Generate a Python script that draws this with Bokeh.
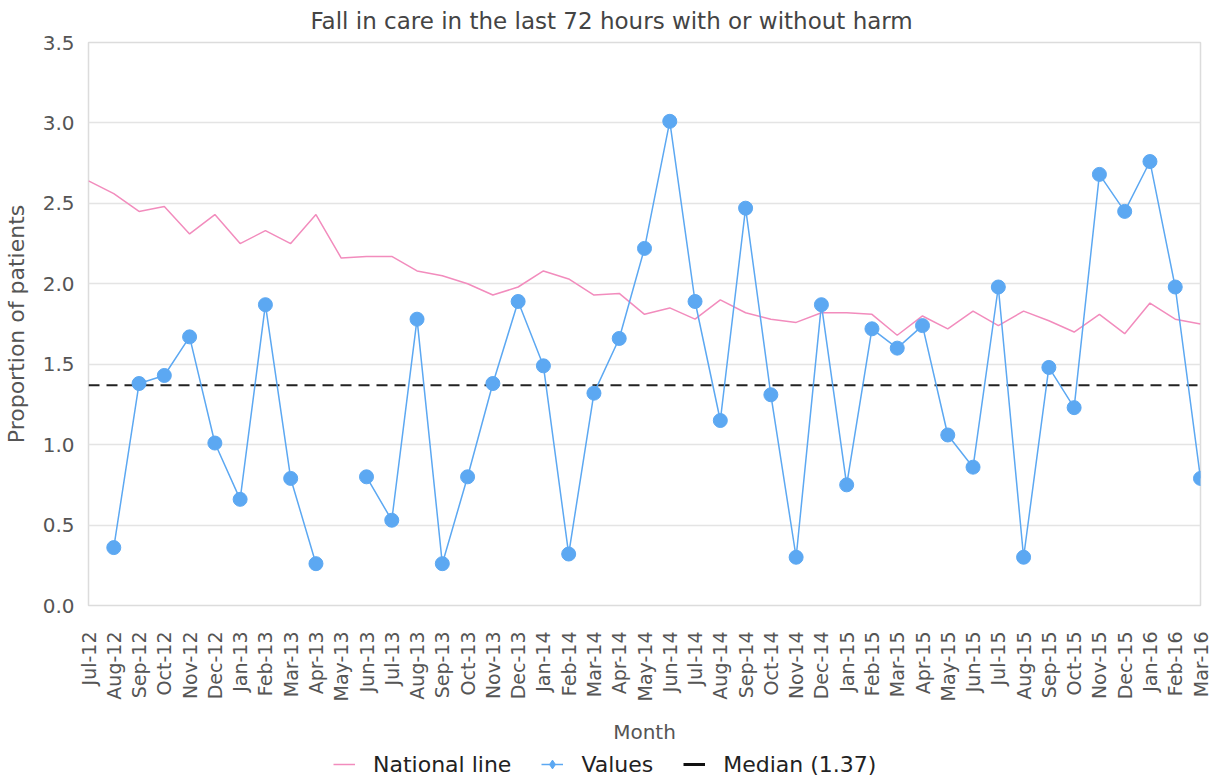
import math
from bokeh.plotting import figure
from bokeh.layouts import column
from bokeh.models import (FixedTicker, Legend, LegendItem, Range1d, PrintfTickFormatter)
from bokeh.embed import file_html
from bokeh.resources import INLINE

nan = float("nan")

months = ["Jul-12", "Aug-12", "Sep-12", "Oct-12", "Nov-12", "Dec-12",
          "Jan-13", "Feb-13", "Mar-13", "Apr-13", "May-13", "Jun-13",
          "Jul-13", "Aug-13", "Sep-13", "Oct-13", "Nov-13", "Dec-13",
          "Jan-14", "Feb-14", "Mar-14", "Apr-14", "May-14", "Jun-14",
          "Jul-14", "Aug-14", "Sep-14", "Oct-14", "Nov-14", "Dec-14",
          "Jan-15", "Feb-15", "Mar-15", "Apr-15", "May-15", "Jun-15",
          "Jul-15", "Aug-15", "Sep-15", "Oct-15", "Nov-15", "Dec-15",
          "Jan-16", "Feb-16", "Mar-16"]

values = [nan, 0.36, 1.38, 1.43, 1.67, 1.01,
          0.66, 1.87, 0.79, 0.26, nan, 0.80,
          0.53, 1.78, 0.26, 0.80, 1.38, 1.89,
          1.49, 0.32, 1.32, 1.66, 2.22, 3.01,
          1.89, 1.15, 2.47, 1.31, 0.30, 1.87,
          0.75, 1.72, 1.60, 1.74, 1.06, 0.86,
          1.98, 0.30, 1.48, 1.23, 2.68, 2.45,
          2.76, 1.98, 0.79]

national = [2.64, 2.56, 2.45, 2.48, 2.31, 2.43,
            2.25, 2.33, 2.25, 2.43, 2.16, 2.17,
            2.17, 2.08, 2.05, 2.00, 1.93, 1.98,
            2.08, 2.03, 1.93, 1.94, 1.81, 1.85,
            1.78, 1.90, 1.82, 1.78, 1.76, 1.82,
            1.82, 1.81, 1.68, 1.80, 1.72, 1.83,
            1.74, 1.83, 1.77, 1.70, 1.81, 1.69,
            1.88, 1.78, 1.75]

median_value = 1.37
y_ticks = [0.0, 0.5, 1.0, 1.5, 2.0, 2.5, 3.0, 3.5]

PINK = "#f28cbd"
BLUE = "#5ca8f2"
FONT = "DejaVu Sans"

x = list(range(len(months)))

p = figure(width=1212, height=750,
           output_backend="svg", toolbar_location=None,
           x_range=Range1d(x[0], x[-1]), y_range=Range1d(y_ticks[0], y_ticks[-1]),
           min_border_left=88, min_border_right=12, min_border_top=42,
           min_border_bottom=145)

p.title.text = "Fall in care in the last 72 hours with or without harm"
p.title.align = "left"
p.title.offset = 222
p.title.vertical_align = "top"
p.title.text_font = FONT
p.title.text_font_size = "23px"
p.title.text_font_style = "normal"
p.title.text_color = "#444444"
p.title.standoff = 14

p.outline_line_color = "#dcdcdc"
p.outline_line_width = 1.5
p.xgrid.visible = False
p.ygrid.grid_line_color = "#e4e4e4"
p.ygrid.grid_line_width = 1.5

yax = p.yaxis[0]
yax.ticker = FixedTicker(ticks=y_ticks)
yax.formatter = PrintfTickFormatter(format="%.1f")
yax.axis_line_color = None
yax.major_tick_line_color = None
yax.major_tick_out = 0
yax.major_tick_in = 0
yax.minor_tick_line_color = None
yax.major_label_standoff = 14
yax.major_label_text_font = FONT
yax.major_label_text_font_size = "20px"
yax.major_label_text_color = "#555555"
yax.axis_label = "Proportion of patients"
yax.axis_label_standoff = 11
yax.axis_label_text_font = FONT
yax.axis_label_text_font_size = "22px"
yax.axis_label_text_font_style = "normal"
yax.axis_label_text_color = "#555555"

xax = p.xaxis[0]
xax.ticker = FixedTicker(ticks=x)
xax.major_label_overrides = {i: m for i, m in zip(x, months)}
xax.major_label_orientation = math.pi / 2
xax.axis_line_color = None
xax.major_tick_line_color = None
xax.minor_tick_line_color = None
xax.major_label_standoff = 20
xax.major_label_text_font = FONT
xax.major_label_text_font_size = "19px"
xax.major_label_text_color = "#555555"
xax.axis_label = "Month"
xax.axis_label_standoff = 16
xax.axis_label_text_font = FONT
xax.axis_label_text_font_size = "20px"
xax.axis_label_text_font_style = "normal"
xax.axis_label_text_color = "#555555"

p.line(x, national, line_color=PINK, line_width=1.5)
p.line([x[0], x[-1]], [median_value, median_value], line_color="#222222",
       line_width=2, line_dash="11 7")
p.line(x, values, line_color=BLUE, line_width=1.5)
p.scatter(x, values, size=14, marker="circle", fill_color=BLUE, line_color=BLUE)

# Legend strip below the chart (its own small figure, legend-only renderers)
lg = figure(width=1212, height=28, output_backend="svg", toolbar_location=None,
            x_range=Range1d(0, 1), y_range=Range1d(0, 1),
            x_axis_type=None, y_axis_type=None,
            min_border_left=0, min_border_right=0, min_border_top=0,
            min_border_bottom=0)
lg.outline_line_color = None
lg.xgrid.visible = False
lg.ygrid.visible = False

d_nat = lg.line([nan], [nan], line_color=PINK, line_width=1.5)
d_val_line = lg.line([nan], [nan], line_color=BLUE, line_width=1.5)
d_val_mark = lg.scatter([nan], [nan], marker="diamond", size=9,
                        fill_color=BLUE, line_color=BLUE)
d_med = lg.line([nan], [nan], line_color="#111111", line_width=3)

legend = Legend(items=[
    LegendItem(label="National line", renderers=[d_nat]),
    LegendItem(label="Values", renderers=[d_val_line, d_val_mark]),
    LegendItem(label=f"Median ({median_value})", renderers=[d_med]),
], orientation="horizontal", location=(245, 1))
legend.border_line_color = None
legend.background_fill_alpha = 0
legend.padding = 0
legend.margin = 0
legend.spacing = 30
legend.glyph_width = 22
legend.glyph_height = 26
legend.label_height = 26
legend.label_standoff = 18
legend.label_text_font = FONT
legend.label_text_font_size = "22px"
legend.label_text_color = "#222222"
lg.add_layout(legend, "center")

layout = column(p, lg, spacing=0)

open("out.html", "w").write(file_html(layout, INLINE))
